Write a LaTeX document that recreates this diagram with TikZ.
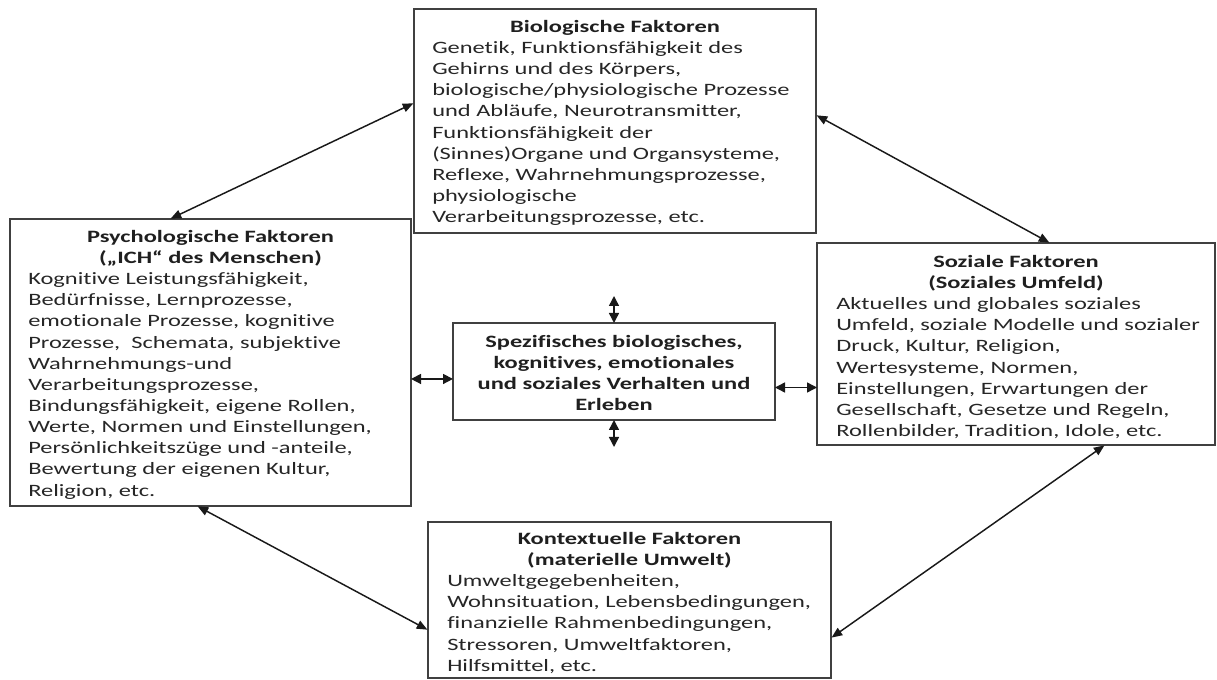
\documentclass[tikz,border=0pt]{standalone}
\usepackage{fontspec}
\setmainfont{Carlito}[FakeStretch=1.41, Ligatures={NoCommon}]
\usetikzlibrary{arrows.meta}
\tikzset{
  box/.style={draw=black!75, line width=1pt, inner sep=0pt, outer sep=0pt, rectangle},
  ttl/.style={anchor=north, inner sep=0pt, align=center, text=black!88, font=\fontsize{13}{15.86}\selectfont\bfseries},
  bdy/.style={anchor=north west, inner sep=0pt, align=left, text=black!85, font=\fontsize{13}{15.86}\selectfont},
  conn/.style={{Triangle[length=8pt,width=6.5pt]}-{Triangle[length=8pt,width=6.5pt]}, line width=1.1pt, black!90, shorten <=0.5pt, shorten >=0.5pt},
  sconn/.style={{Triangle[length=7.5pt,width=7.5pt]}-{Triangle[length=7.5pt,width=7.5pt]}, line width=1.1pt, black!90}
}
\begin{document}
\begin{tikzpicture}[x=0.75pt,y=-0.75pt]
\useasboundingbox (0,0) rectangle (1217,680);
% boxes
\node[box, minimum width=301.5pt, minimum height=168pt] (bio) at (615,121) {};
\node[box, minimum width=300.75pt, minimum height=215.25pt] (psych) at (210.5,362.5) {};
\node[box, minimum width=298.5pt, minimum height=151.5pt] (soz) at (1016,344) {};
\node[box, minimum width=302.25pt, minimum height=117pt] (kon) at (629.5,600) {};
\node[box, minimum width=241.5pt, minimum height=72.75pt] (center) at (614,371.5) {};
% texts
\node[ttl] (biot) at (615,17.3) {\strut Biologische Faktoren};
\node[bdy] (biob) at (432,38.4) {\strut Genetik, Funktionsfähigkeit des\\
Gehirns und des Körpers,\\
biologische/physiologische Prozesse\\
und Abläufe, Neurotransmitter,\\
Funktionsfähigkeit der\\
(Sinnes)Organe und Organsysteme,\\
Reflexe, Wahrnehmungsprozesse,\\
physiologische\\
Verarbeitungsprozesse, etc.};
\node[ttl] (psycht) at (210.5,227.3) {\strut Psychologische Faktoren\\(„ICH“ des Menschen)};
\node[bdy] (psychb) at (28,269.5) {\strut Kognitive Leistungsfähigkeit,\\
Bedürfnisse, Lernprozesse,\\
emotionale Prozesse, kognitive\\
Prozesse,\ \ Schemata, subjektive\\
Wahrnehmungs-und\\
Verarbeitungsprozesse,\\
Bindungsfähigkeit, eigene Rollen,\\
Werte, Normen und Einstellungen,\\
Persönlichkeitszüge und -anteile,\\
Bewertung der eigenen Kultur,\\
Religion, etc.};
\node[ttl] (sozt) at (1016,252.3) {\strut Soziale Faktoren\\(Soziales Umfeld)};
\node[bdy] (sozb) at (836,294.5) {\strut Aktuelles und globales soziales\\
Umfeld, soziale Modelle und sozialer\\
Druck, Kultur, Religion,\\
Wertesysteme, Normen,\\
Einstellungen, Erwartungen der\\
Gesellschaft, Gesetze und Regeln,\\
Rollenbilder, Tradition, Idole, etc.};
\node[ttl] (kont) at (629.5,529.3) {\strut Kontextuelle Faktoren\\(materielle Umwelt)};
\node[bdy] (konb) at (447,571.5) {\strut Umweltgegebenheiten,\\
Wohnsituation, Lebensbedingungen,\\
finanzielle Rahmenbedingungen,\\
Stressoren, Umweltfaktoren,\\
Hilfsmittel, etc.};
\node[ttl] (centert) at (614,332.3) {\strut Spezifisches biologisches,\\
kognitives, emotionales\\
und soziales Verhalten und\\
Erleben};
% big connectors
\draw[conn] ([xshift=-30.4pt]psych.north) -- ([yshift=13.5pt]bio.west);
\draw[conn] ([yshift=4.5pt]bio.east) -- ([xshift=25.5pt]soz.north);
\draw[conn] ([xshift=-10.1pt]psych.south) -- ([yshift=-22.5pt]kon.west);
\draw[conn] ([xshift=66.75pt]soz.south) -- ([yshift=-28.5pt]kon.east);
% small connectors
\coordinate (ctop) at (614,296);
\coordinate (cbot) at (614,447);
\coordinate (lA) at ([yshift=-5.6pt]center.west);
\coordinate (rA) at ([yshift=-12pt]center.east);
\draw[sconn] (ctop) -- (center.north);
\draw[sconn] (center.south) -- (cbot);
\draw[sconn] (psych.east |- lA) -- (lA);
\draw[sconn] (rA) -- (soz.west |- rA);
\end{tikzpicture}
\end{document}
